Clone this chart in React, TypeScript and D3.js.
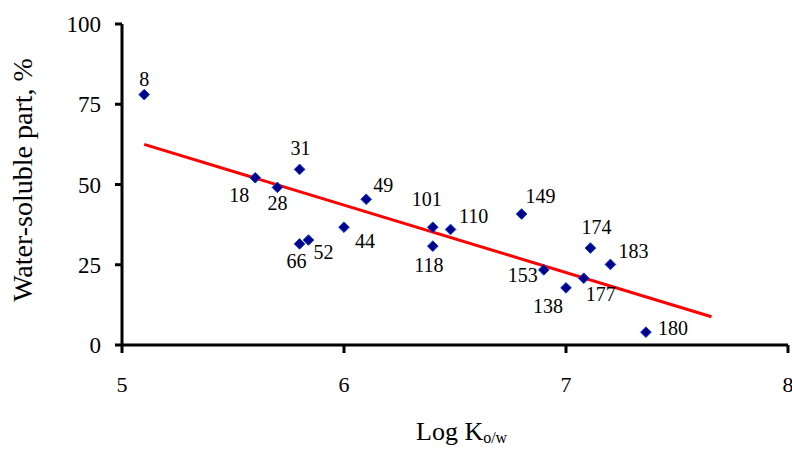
import React from "react";
import * as d3 from "d3";

const labels = ["8", "18", "28", "31", "66", "52", "44", "49", "101", "118", "110", "149", "153", "138", "177", "174", "183", "180"];
const logK = [5.1, 5.6, 5.7, 5.8, 5.8, 5.84, 6.0, 6.1, 6.4, 6.4, 6.48, 6.8, 6.9, 7.0, 7.08, 7.11, 7.2, 7.36];
const waterSoluble = [78, 52.1, 49.1, 54.7, 31.5, 32.7, 36.7, 45.4, 36.7, 30.8, 36.0, 40.8, 23.4, 17.8, 20.8, 30.2, 25.1, 4.0];

const trendX = [5.1, 7.655];
const trendY = [62.5, 8.8];

const xTicks = [5, 6, 7, 8];
const yTicks = [0, 25, 50, 75, 100];

// label placement (pixels relative to marker; dy = baseline offset)
const labelOffsets: Record<string, [number, number]> = {
  "8": [0, -9],
  "18": [-16, 24],
  "28": [0, 23],
  "31": [1, -14],
  "66": [-3, 24],
  "52": [15, 19],
  "44": [21, 21],
  "49": [17, -7],
  "101": [-6, -21],
  "118": [-4, 26],
  "110": [23, -6],
  "149": [19, -11],
  "153": [-21, 12],
  "138": [-18, 25],
  "177": [17, 23],
  "174": [6, -14],
  "183": [23, -6],
  "180": [27, 3],
};

const W = 792;
const H = 450;
const FONT = "'Liberation Serif', 'Times New Roman', serif";

export default function App() {
  const x = d3.scaleLinear().domain([5, 8]).range([122, 788]);
  const y = d3.scaleLinear().domain([0, 100]).range([345, 24]);
  const line = d3
    .line<number>()
    .x((_, i) => x(trendX[i]))
    .y((d) => y(d));
  const diamond = d3.symbol().type(d3.symbolDiamond2).size(72)();

  return (
    <svg
      width={W}
      height={H}
      style={{ position: "absolute", left: 0, top: 0, display: "block", background: "#fff" }}
      fontFamily={FONT}
    >
      {/* trend line */}
      <path d={line(trendY) || ""} fill="none" stroke="#ff0000" strokeWidth={3} />

      {/* markers */}
      {logK.map((v, i) => (
        <path
          key={"m" + i}
          d={diamond || ""}
          transform={`translate(${x(v)},${y(waterSoluble[i])})`}
          fill="#00008b"
          stroke="#0a3ad0"
          strokeWidth={1}
        />
      ))}

      {/* point labels */}
      {logK.map((v, i) => {
        const [dx, dy] = labelOffsets[labels[i]] || [0, -10];
        return (
          <text
            key={"l" + i}
            x={x(v) + dx}
            y={y(waterSoluble[i]) + dy}
            textAnchor="middle"
            fontSize={20}
            fill="#000"
          >
            {labels[i]}
          </text>
        );
      })}

      {/* axes */}
      <line x1={x(5)} x2={x(8)} y1={y(0)} y2={y(0)} stroke="#000" strokeWidth={3} />
      <line x1={x(5)} x2={x(5)} y1={y(0)} y2={y(100)} stroke="#000" strokeWidth={3} />
      {yTicks.map((t) => (
        <g key={"yt" + t}>
          <line x1={x(5) - 7} x2={x(5)} y1={y(t)} y2={y(t)} stroke="#000" strokeWidth={3} />
          <text x={101} y={y(t) + 8} textAnchor="end" fontSize={23} fill="#000">
            {t}
          </text>
        </g>
      ))}
      {xTicks.map((t) => (
        <g key={"xt" + t}>
          <line x1={x(t)} x2={x(t)} y1={y(0)} y2={y(0) + 8} stroke="#000" strokeWidth={3} />
          <text x={x(t)} y={392} textAnchor="middle" fontSize={22} fill="#000">
            {t}
          </text>
        </g>
      ))}

      {/* axis titles */}
      <text
        transform={`translate(32,180) rotate(-90)`}
        textAnchor="middle"
        fontSize={28}
        fill="#000"
      >
        Water-soluble part, %
      </text>
      <text x={416} y={440} fontSize={26} fill="#000">
        Log K
        <tspan fontSize={16} dy={3}>
          o/w
        </tspan>
      </text>
    </svg>
  );
}
